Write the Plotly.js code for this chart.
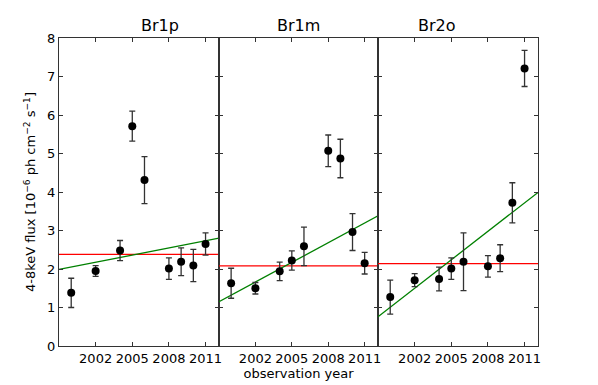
<!DOCTYPE html>
<html>
<head>
<meta charset="utf-8">
<script src="https://cdn.plot.ly/plotly-3.0.1.min.js"></script>
<style>
  html, body { margin: 0; padding: 0; background: #fff; }
  #chart { width: 598px; height: 385px; }
</style>
</head>
<body>
<div id="chart"></div>
<script>
// panels (regions)
const panelNames = ['Br1p', 'Br1m', 'Br2o'];
const years = [2000, 2002, 2004, 2005, 2006, 2008, 2009, 2010, 2011];

// 4-8 keV flux, 1e-6 ph cm^-2 s^-1
const fluxBr1p = [1.38, 1.95, 2.48, 5.71, 4.31, 2.01, 2.19, 2.09, 2.65];
const errBr1p  = [0.38, 0.14, 0.26, 0.39, 0.61, 0.28, 0.36, 0.42, 0.29];
const fluxBr1m = [1.63, 1.50, 1.94, 2.22, 2.59, 5.07, 4.87, 2.96, 2.15];
const errBr1m  = [0.39, 0.15, 0.24, 0.25, 0.50, 0.41, 0.50, 0.48, 0.28];
const fluxBr2o = [1.27, 1.71, 1.74, 2.01, 2.19, 2.07, 2.28, 3.72, 7.21];
const errBr2o  = [0.44, 0.17, 0.31, 0.28, 0.75, 0.28, 0.35, 0.52, 0.47];

// constant (mean) level and linear fit per panel
const meanLevel = [2.38, 2.08, 2.14];
const fitYears = [1999, 2012.1];
const fitStart = [1.99, 1.15, 0.76];
const fitEnd   = [2.80, 3.38, 3.99];

const fluxes = [fluxBr1p, fluxBr1m, fluxBr2o];
const errors = [errBr1p, errBr1m, errBr2o];

const FONT = 'DejaVu Sans, sans-serif';
const domains = [[0, 0.334], [0.334, 0.666], [0.666, 1]];

const traces = [];
panelNames.forEach((name, i) => {
    const xa = i === 0 ? 'x' : 'x' + (i + 1);
    const ya = i === 0 ? 'y' : 'y' + (i + 1);
    traces.push({
        x: fitYears, y: [meanLevel[i], meanLevel[i]],
        xaxis: xa, yaxis: ya, type: 'scatter', mode: 'lines',
        line: { color: '#ff0000', width: 1.3 }, hoverinfo: 'skip'
    });
    traces.push({
        x: fitYears, y: [fitStart[i], fitEnd[i]],
        xaxis: xa, yaxis: ya, type: 'scatter', mode: 'lines',
        line: { color: '#008000', width: 1.3 }, hoverinfo: 'skip'
    });
    traces.push({
        x: years, y: fluxes[i], name: name,
        xaxis: xa, yaxis: ya, type: 'scatter', mode: 'markers',
        marker: { color: '#000', size: 8 },
        error_y: { type: 'data', array: errors[i], visible: true, color: '#333', thickness: 1.3, width: 3 }
    });
});

const axisBase = {
    showline: true, mirror: 'ticks', linecolor: '#333', linewidth: 1,
    ticks: 'inside', ticklen: 4, tickcolor: '#333', tickwidth: 1,
    showgrid: false, zeroline: false,
    tickfont: { family: FONT, size: 13, color: '#000' }
};

const layout = {
    width: 598, height: 385,
    margin: { l: 59, r: 60, t: 38, b: 39 },
    paper_bgcolor: '#fff', plot_bgcolor: '#fff',
    showlegend: false,
    font: { family: FONT, color: '#000' },
    annotations: panelNames.map((name, i) => ({
        text: name, xref: 'paper', yref: 'paper',
        x: (domains[i][0] + domains[i][1]) / 2, y: 1,
        yanchor: 'bottom', showarrow: false, yshift: 1,
        font: { family: FONT, size: 16, color: '#000' }
    }))
};

domains.forEach((d, i) => {
    const sfx = i === 0 ? '' : String(i + 1);
    layout['xaxis' + sfx] = Object.assign({}, axisBase, {
        domain: d, range: [1999, 2012.1], anchor: 'y' + sfx,
        tickvals: [2002, 2005, 2008, 2011]
    });
    layout['yaxis' + sfx] = Object.assign({}, axisBase, {
        range: [0, 8], anchor: 'x' + sfx, dtick: 1,
        showticklabels: i === 0
    });
});
layout.xaxis2.title = { text: 'observation year', font: { family: FONT, size: 13, color: '#000' }, standoff: 2 };
layout.yaxis.title = {
    text: '4-8keV flux [10<sup>\u22126</sup> ph cm<sup>\u22122</sup> s<sup>\u22121</sup>]',
    font: { family: FONT, size: 13, color: '#000' }, standoff: 8
};

Plotly.newPlot('chart', traces, layout, { displayModeBar: false, staticPlot: true });
</script>
</body>
</html>
